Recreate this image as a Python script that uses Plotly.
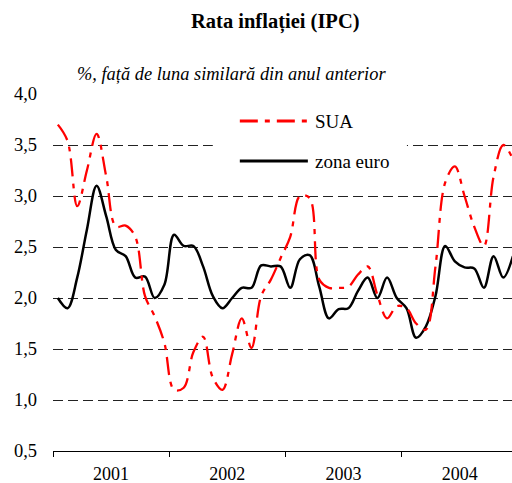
import plotly.graph_objects as go

# ---- data (monthly, Jan 2001 - Dec 2004) ----
years = ["2001", "2002", "2003", "2004"]
sua = [3.70, 3.54, 2.90, 3.25, 3.61, 3.19, 2.70, 2.71, 2.60, 2.02, 1.82, 1.56,
       1.10, 1.12, 1.47, 1.62, 1.22, 1.10, 1.45, 1.80, 1.51, 2.02, 2.18, 2.39,
       2.60, 3.00, 2.98, 2.18, 2.10, 2.10, 2.11, 2.23, 2.31, 2.03, 1.80, 1.92,
       1.90, 1.75, 1.69, 2.31, 3.13, 3.29, 3.00, 2.70, 2.51, 3.19, 3.50, 3.36]
euro = [2.00, 1.90, 2.20, 2.67, 3.10, 2.80, 2.47, 2.41, 2.20, 2.21, 2.00, 2.13,
        2.62, 2.51, 2.51, 2.31, 2.02, 1.90, 2.00, 2.10, 2.10, 2.32, 2.31, 2.31,
        2.10, 2.38, 2.42, 2.11, 1.80, 1.89, 1.90, 2.07, 2.20, 2.00, 2.20, 2.00,
        1.90, 1.61, 1.72, 2.02, 2.51, 2.36, 2.30, 2.29, 2.10, 2.41, 2.20, 2.41]
y_ticks = [0.5, 1.0, 1.5, 2.0, 2.5, 3.0, 3.5, 4.0]
series_names = ["SUA", "zona euro"]

months = list(range(len(euro)))

W, H = 512, 483
L, R, T, B = 53.3, 0, 94, 31.5
PW, PH = W - L - R, H - T - B
month_w = 9.677
x_max = -0.5 + PW / month_w

FONT = "Liberation Serif"
RED = "#ff0000"
RED_DASH = "18px,7px,5px,7px"


def px(xp):
    return (xp - L) / PW


def py(yp):
    return (H - B - yp) / PH


fig = go.Figure()
fig.add_trace(go.Scatter(x=months, y=euro, mode="lines", name=series_names[1],
                         line=dict(color="black", width=2.5, shape="spline", smoothing=1),
                         showlegend=False, cliponaxis=True))
fig.add_trace(go.Scatter(x=months, y=sua, mode="lines", name=series_names[0],
                         line=dict(color=RED, width=2.3, shape="spline", smoothing=1, dash=RED_DASH),
                         showlegend=False, cliponaxis=True))

fig.update_layout(
    width=W, height=H,
    margin=dict(l=L, r=R, t=T, b=B, pad=0),
    paper_bgcolor="white", plot_bgcolor="white",
    separators=",.",
    font=dict(family=FONT, size=18, color="black"),
    showlegend=False,
)
fig.update_xaxes(
    range=[-0.5, x_max],
    tickmode="array",
    tickvals=[5.5 + 12 * i for i in range(len(years))],
    ticktext=years,
    ticks="",
    showgrid=False, zeroline=False,
    showline=True, linecolor="black", linewidth=1,
    tickfont=dict(family=FONT, size=18),
    ticklabelstandoff=6,
    minor=dict(ticks="outside", tick0=-0.5, dtick=12, ticklen=5, tickcolor="black",
               tickwidth=1, showgrid=False),
)
fig.update_yaxes(
    range=[0.5, 4.0],
    tickmode="array", tickvals=y_ticks, tickformat=".1f",
    ticks="", showline=False, zeroline=False,
    showgrid=True, gridcolor="#222222", gridwidth=1, griddash="10px,5px",
    tickfont=dict(family=FONT, size=18.5),
    ticklabelstandoff=15,
)

# legend (manual, long line samples like the original)
shapes = [
    dict(type="rect", xref="paper", yref="paper", x0=px(213), x1=px(407), y0=py(185), y1=py(104),
         fillcolor="white", line=dict(width=0), layer="above"),
    dict(type="line", xref="paper", yref="paper", x0=px(240), x1=px(308), y0=py(121), y1=py(121),
         line=dict(color=RED, width=3, dash=RED_DASH), layer="above"),
    dict(type="line", xref="paper", yref="paper", x0=px(240), x1=px(308), y0=py(161), y1=py(161),
         line=dict(color="black", width=3), layer="above"),
]
annotations = [
    dict(text=series_names[0], xref="paper", yref="paper", x=px(313), y=py(122),
         xanchor="left", yanchor="middle", showarrow=False, font=dict(family=FONT, size=19)),
    dict(text=series_names[1], xref="paper", yref="paper", x=px(313), y=py(162),
         xanchor="left", yanchor="middle", showarrow=False, font=dict(family=FONT, size=19)),
    dict(text="<b>Rata inflației (IPC)</b>", xref="paper", yref="paper", x=px(276), y=py(22),
         xanchor="center", yanchor="middle", showarrow=False, font=dict(family=FONT, size=20.5)),
    dict(text="<i>%, față de luna similară din anul anterior</i>", xref="paper", yref="paper",
         x=px(75), y=py(74), xanchor="left", yanchor="middle", showarrow=False,
         font=dict(family=FONT, size=18.4)),
]
fig.update_layout(shapes=shapes, annotations=annotations)

fig.write_html("out.html",
               config={"displayModeBar": False},
               post_script="document.body.style.margin='0';document.body.style.padding='0';")
